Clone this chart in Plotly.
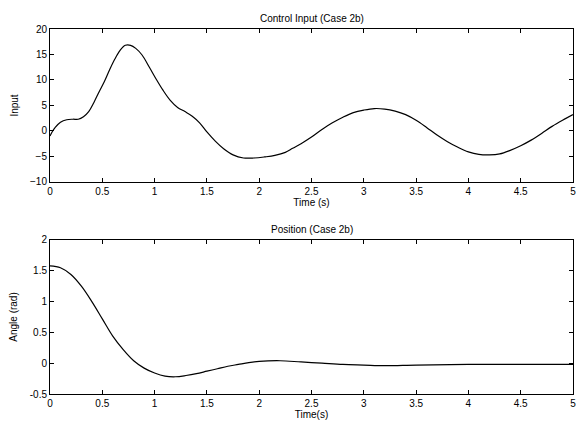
import plotly.graph_objects as go

# Control input data (Case 2b)
t_input = [0, 0.02, 0.05, 0.1, 0.16, 0.22, 0.27, 0.32, 0.37, 0.42, 0.47, 0.52, 0.57, 0.62,
           0.67, 0.72, 0.77, 0.82, 0.88, 0.95, 1.02, 1.08, 1.15, 1.22, 1.29, 1.36, 1.43,
           1.5, 1.58, 1.66, 1.75, 1.85, 1.95, 2.05, 2.15, 2.25, 2.32, 2.4, 2.5, 2.6, 2.7,
           2.8, 2.9, 3.0, 3.1, 3.2, 3.3, 3.4, 3.5, 3.6, 3.7, 3.8, 3.9, 4.0, 4.1, 4.2, 4.3,
           4.4, 4.5, 4.6, 4.7, 4.8, 4.9, 5.0]
u_input = [-1.0, -0.2, 0.7, 1.7, 2.2, 2.3, 2.3, 2.8, 3.8, 5.6, 7.7, 9.7, 12.0, 14.1,
           15.8, 16.8, 16.8, 16.2, 14.9, 12.5, 10.0, 8.0, 6.0, 4.6, 3.8, 2.9, 1.6,
           -0.2, -2.0, -3.5, -4.7, -5.3, -5.3, -5.1, -4.8, -4.2, -3.4, -2.5, -1.2, 0.3, 1.6,
           2.7, 3.6, 4.1, 4.4, 4.3, 3.9, 3.2, 2.1, 0.7, -0.8, -2.1, -3.2, -4.1, -4.6, -4.7, -4.5,
           -3.8, -2.9, -1.8, -0.5, 0.9, 2.1, 3.2]

# Position data (Case 2b)
t_pos = [0, 0.1, 0.2, 0.3, 0.4, 0.5, 0.6, 0.7, 0.8, 0.9, 1.0, 1.1, 1.2, 1.3, 1.4, 1.5,
         1.6, 1.7, 1.8, 1.9, 2.0, 2.2, 2.4, 2.6, 2.8, 3.0, 3.2, 3.5, 4.0, 4.5, 5.0]
angle = [1.58, 1.55, 1.44, 1.25, 1.0, 0.72, 0.44, 0.22, 0.04, -0.08, -0.16, -0.21, -0.22,
         -0.2, -0.17, -0.13, -0.09, -0.05, -0.02, 0.01, 0.03, 0.04, 0.02, 0.0, -0.02,
         -0.03, -0.04, -0.03, -0.02, -0.02, -0.02]

x_ticks = [0, 0.5, 1, 1.5, 2, 2.5, 3, 3.5, 4, 4.5, 5]
x_ticktext = ["0", "0.5", "1", "1.5", "2", "2.5", "3", "3.5", "4", "4.5", "5"]
y1_ticks = [-10, -5, 0, 5, 10, 15, 20]
y2_ticks = [-0.5, 0, 0.5, 1, 1.5, 2]
y2_ticktext = ["-0.5", "0", "0.5", "1", "1.5", "2"]

FONT = "Liberation Sans, Arial, sans-serif"

fig = go.Figure()
fig.add_trace(go.Scatter(x=t_input, y=u_input, mode="lines", line=dict(color="black", width=1.2, shape="spline"),
                         xaxis="x", yaxis="y", showlegend=False))
fig.add_trace(go.Scatter(x=t_pos, y=angle, mode="lines", line=dict(color="black", width=1.2, shape="spline"),
                         xaxis="x2", yaxis="y2", showlegend=False))

axis_common = dict(showline=True, linecolor="black", linewidth=1, mirror="ticks", ticks="inside",
                   ticklen=4, tickcolor="black", showgrid=False, zeroline=False, automargin=False,
                   ticklabeloverflow="allow",
                   tickfont=dict(family=FONT, size=10, color="black"))

fig.update_layout(
    width=576, height=422,
    template="none",
    paper_bgcolor="white", plot_bgcolor="white",
    margin=dict(l=50, r=3, t=29, b=28),
    font=dict(family=FONT, size=10, color="black"),
    xaxis=dict(domain=[0, 1], anchor="y", range=[0, 5], tickvals=x_ticks, ticktext=x_ticktext,
               title=dict(text="Time (s)", standoff=2, font=dict(size=10)), **axis_common),
    yaxis=dict(domain=[0.581, 1], anchor="x", range=[-10, 20], tickvals=y1_ticks,
               title=dict(text="Input", standoff=9, font=dict(size=10)), **axis_common),
    xaxis2=dict(domain=[0, 1], anchor="y2", range=[0, 5], tickvals=x_ticks, ticktext=x_ticktext,
                title=dict(text="Time(s)", standoff=2, font=dict(size=10)), **axis_common),
    yaxis2=dict(domain=[0, 0.422], anchor="x2", range=[-0.5, 2], tickvals=y2_ticks, ticktext=y2_ticktext,
                title=dict(text="Angle (rad)", standoff=10, font=dict(size=10)), **axis_common),
    annotations=[
        dict(text="Control Input (Case 2b)", x=0.5, y=1, xref="paper", yref="paper",
             xanchor="center", yanchor="bottom", yshift=3, showarrow=False,
             font=dict(family=FONT, size=10, color="black")),
        dict(text="Position (Case 2b)", x=0.5, y=0.422, xref="paper", yref="paper",
             xanchor="center", yanchor="bottom", yshift=3, showarrow=False,
             font=dict(family=FONT, size=10, color="black")),
    ],
)

fig.write_html("out.html", config={"displayModeBar": False},
               post_script="document.body.style.margin='0';document.body.style.overflow='hidden';")
